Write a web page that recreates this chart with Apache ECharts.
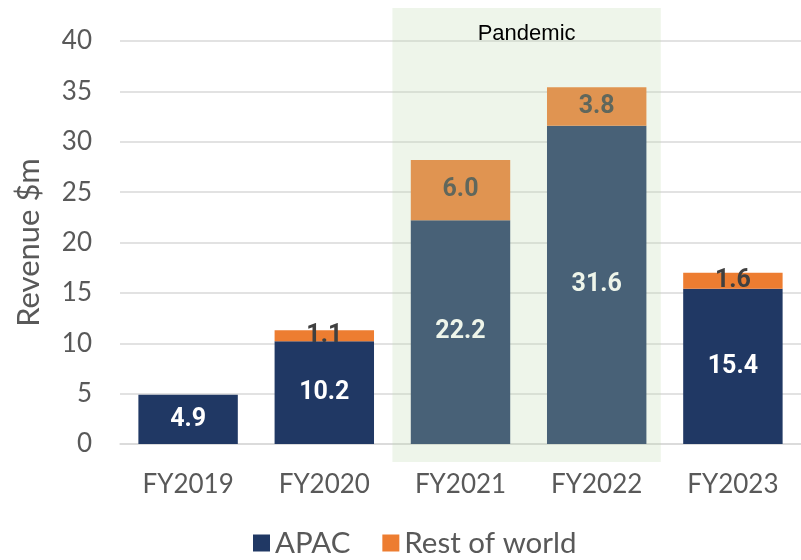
<!DOCTYPE html>
<html>
<head>
<meta charset="utf-8">
<script src="https://cdn.jsdelivr.net/npm/echarts@6/dist/echarts.min.js"></script>
<style>
  html, body { margin: 0; padding: 0; background: #fff; }
  #main { width: 801px; height: 560px; }
</style>
</head>
<body>
<div id="main"></div>
<script>
// revenue by region, $m
var years = ["FY2019", "FY2020", "FY2021", "FY2022", "FY2023"];
var apac = [4.9, 10.2, 22.2, 31.6, 15.4];
var restOfWorld = [null, 1.1, 6.0, 3.8, 1.6];
var yTicks = [0, 5, 10, 15, 20, 25, 30, 35, 40];
var pandemicYears = ["FY2021", "FY2022"];

var chart = echarts.init(document.getElementById("main"));

chart.setOption({
  animation: false,
  grid: { left: 120, right: 0, top: 41, bottom: 116 },
  legend: {
    bottom: -3,
    left: 248,
    itemWidth: 17,
    itemHeight: 17,
    itemGap: 32,
    icon: "rect",
    textStyle: { fontFamily: "Lato", fontSize: 29.5, color: "#595959" },
    data: ["APAC", "Rest of world"]
  },
  xAxis: {
    type: "category",
    data: years,
    axisTick: { show: false },
    axisLine: { lineStyle: { color: "#d9d9d9", width: 1.5 } },
    axisLabel: { fontFamily: "Lato", fontSize: 26, color: "#595959", margin: 28 }
  },
  yAxis: {
    type: "value",
    min: yTicks[0],
    max: yTicks[yTicks.length - 1],
    interval: 5,
    name: "Revenue $m",
    nameLocation: "middle",
    nameGap: 76,
    nameTextStyle: { fontFamily: "Lato", fontSize: 31, color: "#595959" },
    axisLabel: { fontFamily: "Lato", fontSize: 26, color: "#595959", margin: 28 },
    splitLine: { lineStyle: { color: "#d9d9d9", width: 1.5 } }
  },
  series: [
    {
      name: "APAC",
      type: "bar",
      stack: "rev",
      barCategoryGap: "27%",
      itemStyle: { color: "#203864" },
      label: {
        show: true,
        position: "inside",
        color: "#ffffff",
        fontFamily: "Roboto",
        fontWeight: "bold",
        fontSize: 25,
        formatter: function (p) { return p.value.toFixed(1); }
      },
      data: apac
    },
    {
      name: "Rest of world",
      type: "bar",
      stack: "rev",
      itemStyle: { color: "#ed7d31" },
      label: {
        show: true,
        position: "inside",
        color: "#404040",
        fontFamily: "Roboto",
        fontWeight: "bold",
        fontSize: 25,
        formatter: function (p) { return p.value == null ? "" : p.value.toFixed(1); }
      },
      data: restOfWorld
    }
  ]
});

// translucent pandemic band drawn over the bars
var c1 = chart.convertToPixel({ xAxisIndex: 0 }, pandemicYears[0]);
var c2 = chart.convertToPixel({ xAxisIndex: 0 }, pandemicYears[1]);
var half = (c2 - c1) / 2;
var yTop = chart.convertToPixel({ yAxisIndex: 0 }, yTicks[yTicks.length - 1]);
var yZero = chart.convertToPixel({ yAxisIndex: 0 }, 0);
var bandLeft = c1 - half;
var bandRight = c2 + half - 4;

chart.setOption({
  graphic: [
    {
      type: "rect",
      z: 100,
      shape: { x: bandLeft, y: yTop - 33, width: bandRight - bandLeft, height: yZero - yTop + 51 },
      style: { fill: "rgba(190,216,174,0.26)" }
    },
    {
      type: "text",
      z: 101,
      x: (bandLeft + bandRight) / 2,
      y: yTop - 7,
      style: {
        text: "Pandemic",
        fill: "#000000",
        font: "22px 'Liberation Sans'",
        align: "center",
        verticalAlign: "middle"
      }
    }
  ]
});
</script>
</body>
</html>
